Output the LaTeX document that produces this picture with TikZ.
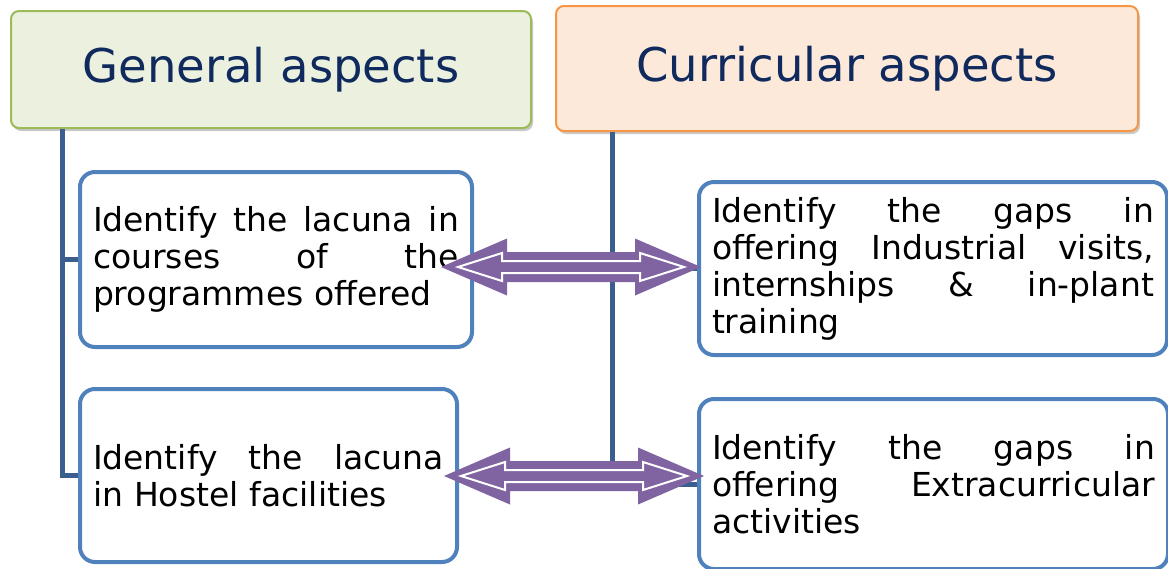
\documentclass[tikz,border=0pt]{standalone}
\usepackage{fontspec}
\setmainfont{DejaVu Sans}
\usetikzlibrary{shadows}
\definecolor{gfill}{HTML}{EBF1DE}
\definecolor{gdraw}{HTML}{9BBB59}
\definecolor{ofill}{HTML}{FDE9D9}
\definecolor{odraw}{HTML}{F79646}
\definecolor{boxblue}{HTML}{4F81BD}
\definecolor{connblue}{HTML}{3A5F8F}
\definecolor{navy}{HTML}{102A5E}
\definecolor{apurple}{HTML}{8064A2}
\newcommand\jline[1]{\leavevmode\hbox to\hsize{#1}\\}
\newcommand\biarrow[2]{%
\begin{scope}[shift={(#1,#2)}]
\fill[apurple] (-130,0) -- (-64,-28.5) -- (-64,-15) -- (64,-15) -- (64,-28.5) -- (130,0) -- (64,28.5) -- (64,15) -- (-64,15) -- (-64,28.5) -- cycle;
\draw[white, line width=2pt, fill=apurple, line join=miter] (-113,0) -- (-69,-14) -- (-69,-6) -- (69,-6) -- (69,-14) -- (113,0) -- (69,14) -- (69,6) -- (-69,6) -- (-69,14) -- cycle;
\end{scope}}
\begin{document}
\begin{tikzpicture}[x=1pt,y=-1pt,
  titlebox/.style={rounded corners=8pt, line width=2pt, text=navy,
    font=\fontsize{46.5}{52}\selectfont,
    drop shadow={shadow xshift=2pt, shadow yshift=-3pt, opacity=0.3, fill=black!70}},
  titleG/.style={titlebox, draw=gdraw, fill=gfill},
  titleC/.style={titlebox, draw=odraw, fill=ofill},
  item/.style={draw=boxblue, line width=4pt, rounded corners=15pt, fill=white,
    inner xsep=13pt, inner ysep=0pt, align=left, text=black,
    font=\fontsize{33}{37}\selectfont},
  conn/.style={draw=connblue, line width=5pt}]
\useasboundingbox (0,0) rectangle (1168,568);

\node[titleG, minimum width=520pt, minimum height=117pt, anchor=north west] (gen) at (10,10) {General aspects};
\node[titleC, minimum width=582pt, minimum height=125pt, anchor=north west] (cur) at (555,5) {Curricular aspects};

\node[item, text width=366pt, minimum height=175pt, anchor=north west] (b1) at (78,170)
  {\jline{Identify\hfill the\hfill lacuna\hfill in}\jline{courses\hfill of\hfill the}programmes offered};
\node[item, text width=351pt, minimum height=173pt, anchor=north west] (b2) at (78,387)
  {\jline{Identify\hfill the\hfill lacuna}in Hostel facilities};
\node[item, text width=442pt, minimum height=173pt, anchor=north west] (b3) at (697,180)
  {\jline{Identify\hfill the\hfill gaps\hfill in}\jline{offering\hfill Industrial\hfill visits,}\jline{internships\hfill \&\hfill in-plant}training};
\node[item, text width=443pt, minimum height=170pt, anchor=north west] (b4) at (697,397)
  {\jline{Identify\hfill the\hfill gaps\hfill in}\jline{offering\hfill Extracurricular}activities};

\coordinate (lx) at (62,0);
\coordinate (rx) at (612,0);
\draw[conn] (gen.south -| lx) |- (b2.west);
\draw[conn] (gen.south -| lx) |- (b1.west);
\draw[conn] (cur.south -| rx) |- (b4.west);
\draw[conn] (cur.south -| rx) |- (b3.west);

\biarrow{571}{267}
\biarrow{574}{476}
\end{tikzpicture}
\end{document}
